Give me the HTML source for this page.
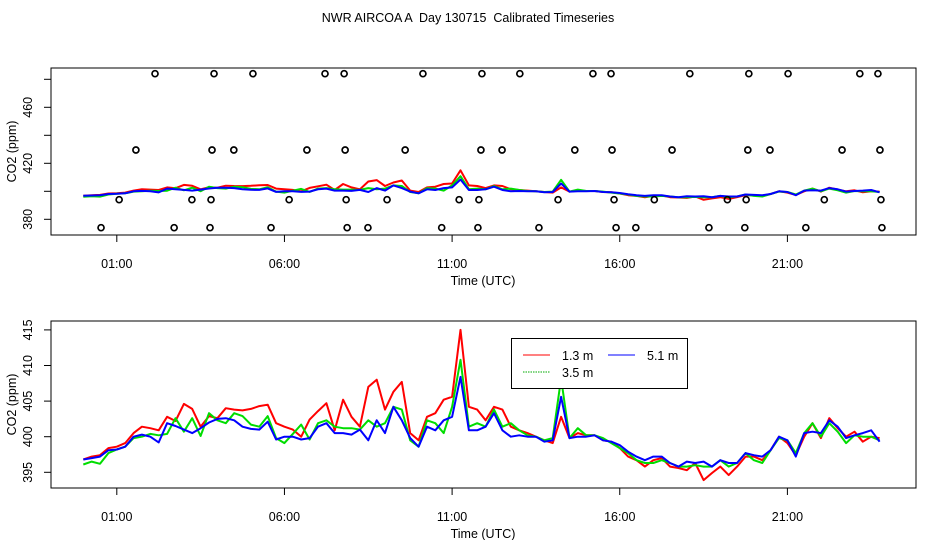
<!DOCTYPE html>
<html><head><meta charset="utf-8"><style>
body{margin:0;background:#fff}
svg{display:block;font-family:"Liberation Sans",sans-serif}
</style></head><body>
<svg id="chart" width="936" height="540" viewBox="0 0 936 540" xmlns="http://www.w3.org/2000/svg">
<rect width="936" height="540" fill="#fff"/>
<text x="468" y="22" text-anchor="middle" font-size="12.5" style="white-space:pre">NWR AIRCOA A  Day 130715  Calibrated Timeseries</text>
<g id="topPanel"></g><g id="botPanel"></g>
</svg>
<script>
const times = [0,0.25,0.5,0.75,1,1.25,1.5,1.75,2,2.25,2.5,2.75,3,3.25,3.5,3.75,4,4.25,4.5,4.75,5,5.25,5.5,5.75,6,6.25,6.5,6.75,7,7.25,7.5,7.75,8,8.25,8.5,8.75,9,9.25,9.5,9.75,10,10.25,10.5,10.75,11,11.25,11.5,11.75,12,12.25,12.5,12.75,13,13.25,13.5,13.75,14,14.25,14.5,14.75,15,15.25,15.5,15.75,16,16.25,16.5,16.75,17,17.25,17.5,17.75,18,18.25,18.5,18.75,19,19.25,19.5,19.75,20,20.25,20.5,20.75,21,21.25,21.5,21.75,22,22.25,22.5,22.75,23,23.25,23.5,23.75];
const red = [396.8,397.2,397.4,398.4,398.6,399.1,400.5,401.4,401.2,400.9,402.8,402.2,404.6,403.9,401.4,402.9,402.6,404.0,403.8,403.7,403.9,404.3,404.5,401.9,401.4,401.0,400.0,402.4,403.6,404.7,400.9,405.2,402.8,401.4,407.0,408.0,403.8,406.3,407.7,400.5,399.5,402.8,403.3,405.2,405.6,415.0,404.2,403.8,402.3,404.2,403.8,401.4,400.9,400.5,400.0,399.5,399.1,402.8,399.8,400.5,400.2,400.2,399.5,399.3,398.4,397.2,396.7,395.8,396.7,397.0,395.8,395.6,395.3,396.3,393.9,394.9,395.8,394.6,395.8,397.2,397.2,396.7,398.1,400.0,399.1,397.4,400.0,401.9,399.8,402.6,401.2,400.0,400.7,399.3,400.0,399.8];
const green = [396.1,396.5,396.2,397.7,398.2,398.6,399.8,400.0,400.4,400.2,400.4,402.6,400.7,402.6,400.1,403.3,402.3,401.9,403.3,402.9,401.7,401.4,402.9,399.8,399.1,400.4,401.7,399.6,401.9,402.3,401.4,401.2,401.2,401.0,402.3,401.4,401.9,404.2,403.8,399.5,398.6,402.3,401.9,400.5,404.2,410.8,401.4,401.9,401.4,403.8,401.4,401.9,400.9,400.2,400.0,399.5,399.8,408.2,399.8,401.2,400.2,400.2,399.8,399.1,398.4,397.7,396.7,396.3,396.3,396.7,396.3,395.8,395.8,396.0,395.8,395.8,396.7,395.8,396.3,397.7,396.7,396.3,398.1,399.8,399.5,397.7,400.5,401.9,400.0,401.9,400.7,399.1,400.2,400.0,400.0,399.5];
const blue = [396.8,397.0,397.2,398.1,398.2,398.6,400.0,400.3,400.0,399.2,401.9,401.5,401.0,400.5,401.2,402.0,402.5,402.6,402.3,401.4,401.1,401.0,402.1,399.6,400.0,400.0,399.6,399.8,401.4,401.9,400.5,400.5,400.3,401.0,399.5,402.3,400.5,404.2,402.3,399.8,398.6,401.4,400.9,402.3,402.8,408.4,400.9,400.9,401.4,403.3,400.9,400.0,400.2,400.0,400.0,399.3,399.5,405.6,399.8,400.0,400.0,400.2,399.5,399.3,398.8,397.9,397.2,396.7,397.2,397.2,396.3,395.8,396.5,396.3,396.5,395.8,396.7,396.3,396.3,397.7,397.4,397.2,398.1,400.0,399.5,397.2,400.5,400.7,400.5,402.3,401.4,399.8,400.2,400.5,400.9,399.3];
const flagTimes1 = [2.14,3.90,5.06,7.21,7.78,10.13,11.89,13.02,15.20,15.74,18.09,19.85,21.02,23.16,23.70];
const flagTimes2 = [1.57,3.84,4.49,6.67,7.81,9.60,11.86,12.49,14.66,15.77,17.56,19.82,20.48,22.63,23.76];
const flagTimes3 = [1.07,3.24,3.81,6.14,7.84,9.06,11.21,11.80,14.16,15.83,17.03,19.21,19.77,22.10,23.79];
const flagTimes4 = [0.53,2.71,3.78,5.60,7.87,8.49,10.69,11.77,13.59,15.89,16.48,18.66,19.73,21.55,23.82];
const flagLevels = [484,429.5,394,374];
const xTickLabels = ["01:00","06:00","11:00","16:00","21:00"];
const xTickHours = [1,6,11,16,21];
const topYTicks = [380,400,420,440,460,480];
const topYLabels = ["380","","420","","460",""];
const botYTicks = [395,400,405,410,415];
const botYLabels = ["395","400","405","410","415"];

const NS="http://www.w3.org/2000/svg";
function mk(parent,tag,attrs,text){const e=document.createElementNS(NS,tag);for(const k in attrs)e.setAttribute(k,attrs[k]);if(text!==undefined)e.textContent=text;parent.appendChild(e);return e;}
const xScale = t => 116.8 + (t-1)*33.53;

function panel(g,box,yScale,yTicks,yLabels,name){
  const fr=mk(g,'rect',{x:box.x0,y:box.y0,width:box.x1-box.x0,height:box.y1-box.y0,fill:'none',stroke:'#000','stroke-width':1});
  
  
  xTickHours.forEach((h,i)=>{
    const x=xScale(h);
    const tl=mk(g,'line',{x1:x,x2:x,y1:box.y1,y2:box.y1+7,stroke:'#000'});
    
    
    const tx=mk(g,'text',{x:x,y:box.y1+33,'text-anchor':'middle','font-size':12.5},xTickLabels[i]);
    
    
  });
  yTicks.forEach((v,i)=>{
    const y=yScale(v);
    const tl=mk(g,'line',{x1:box.x0-7,x2:box.x0,y1:y,y2:y,stroke:'#000'});
    
    
    if(yLabels[i]){
      const tx=mk(g,'text',{x:0,y:0,'text-anchor':'middle','font-size':12.5,transform:`translate(${box.x0-19},${y}) rotate(-90)`},yLabels[i]);
      
      
    }
  });
  const xt=mk(g,'text',{x:483,y:box.y1+50,'text-anchor':'middle','font-size':12.5},'Time (UTC)');
  
  
  const yt=mk(g,'text',{x:0,y:0,'text-anchor':'middle','font-size':12.5,transform:`translate(16,${(box.y0+box.y1)/2}) rotate(-90)`},'CO2 (ppm)');
  
  
  const series=[[red,'#ff0000','red'],[green,'#00dd00','green'],[blue,'#0000ff','blue']];
  series.forEach(([vals,col,nm])=>{
    const d=vals.map((v,i)=>(i?'L':'M')+xScale(times[i]).toFixed(1)+' '+yScale(v).toFixed(1)).join(' ');
    const p=mk(g,'path',{d:d,fill:'none',stroke:col,'stroke-width':2,'stroke-linejoin':'round'});
    
    
  });
}

const topG=document.getElementById('topPanel');


const topY = v => 219.3 - (v-380)*1.4;
panel(topG,{x0:51,x1:916,y0:68,y1:235},topY,topYTicks,topYLabels,'top');
[flagTimes1,flagTimes2,flagTimes3,flagTimes4].forEach((arr,li)=>{
  arr.forEach(t=>{
    const c=mk(topG,'circle',{cx:xScale(t),cy:topY(flagLevels[li]),r:3,fill:'none',stroke:'#000','stroke-width':1.7});
    
    
  });
});

const botG=document.getElementById('botPanel');


const botY = v => 472.3 - (v-395)*7.12;
panel(botG,{x0:51,x1:916,y0:321,y1:488},botY,botYTicks,botYLabels,'bottom');

const lg=mk(botG,'g',{});


mk(lg,'rect',{x:511.5,y:338.5,width:176,height:50,fill:'#fff',stroke:'#000'});
const entries=[['#ff0000','1.3 m',523,355,''],['#0000ff','5.1 m',608,355,''],['#00aa00','3.5 m',523,372,'1.5 1']];
entries.forEach(([col,lab,x,y,dash])=>{
  const e=mk(lg,'g',{});
  
  
  mk(e,'line',{x1:x,x2:x+27,y1:y,y2:y,stroke:col,'stroke-width':1,'stroke-dasharray':dash});
  mk(e,'text',{x:x+39,y:y+5,'font-size':12.5},lab);
});
</script>
</body></html>
